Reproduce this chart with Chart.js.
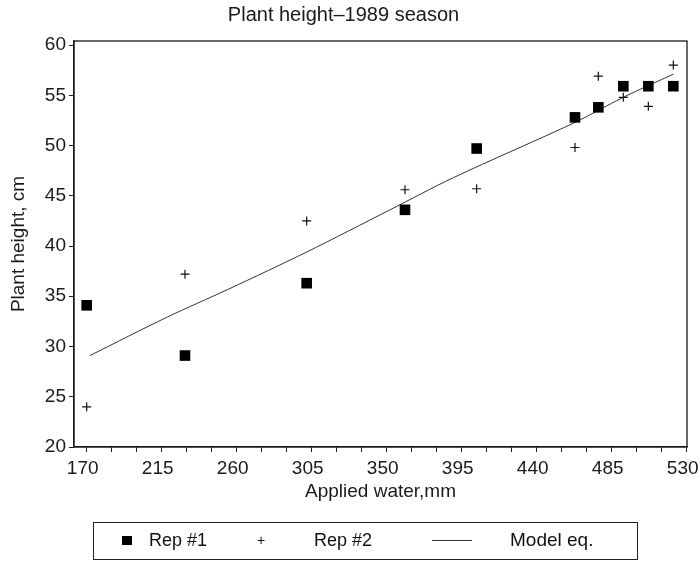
<!DOCTYPE html>
<html><head><meta charset="utf-8">
<script src="https://cdn.jsdelivr.net/npm/chart.js@4.4.1/dist/chart.umd.min.js"></script>
<style>
html,body{margin:0;padding:0;background:#fff;}
#wrap{position:relative;width:700px;height:561px;overflow:hidden;}
canvas{position:absolute;left:0;top:0;}
#legend{position:absolute;left:93px;top:522px;width:543px;height:36px;border:1px solid #222;font-family:"Liberation Sans",Arial,sans-serif;font-size:18px;color:#111;}
.it{position:absolute;top:7px;white-space:nowrap;line-height:20px;}
.sq{position:absolute;left:28px;top:13px;width:10px;height:9px;background:#000;}
.ln{position:absolute;left:338px;top:17px;width:40px;height:1px;background:#333;}
</style></head><body>
<div id="wrap"><canvas id="c" width="700" height="561"></canvas>
<div id="legend">
<div class="sq"></div><div class="it" style="left:55px">Rep #1</div>
<div class="it" style="left:163px;font-size:14px;">+</div><div class="it" style="left:220px">Rep #2</div>
<div class="ln"></div><div class="it" style="left:416px;font-size:19px">Model eq.</div>
</div></div>
<script>
const waterMM = [170, 229, 302, 361, 404, 463, 477, 492, 507, 522];
const rep1 = [34.1, 29.1, 36.3, 43.6, 49.7, 52.8, 53.8, 55.9, 55.9, 55.9];
const rep2 = [24.0, 37.2, 42.5, 45.6, 45.7, 49.8, 56.9, 54.8, 53.9, 58.0];
const modelMM = [172, 218, 255, 302, 352, 390, 463, 492, 522];
const modelHeight = [29.1, 32.9, 35.7, 39.4, 43.6, 46.8, 52.3, 54.8, 57.1];
const xTicks = [170,185,200,215,230,245,260,275,290,305,320,335,350,365,380,395,410,425,440,455,470,485,500,515,530];
const xLabelTicks = [170,215,260,305,350,395,440,485,530];
const yTicks = [20,25,30,35,40,45,50,55,60];

const FONT = '"Liberation Sans", Arial, sans-serif';
const INK = '#1a1a1a';

const boxPlugin = {
  id: 'box',
  afterDraw(chart) {
    const a = chart.chartArea, ctx = chart.ctx;
    ctx.save();
    ctx.strokeStyle = INK; ctx.lineWidth = 1.3;
    ctx.strokeRect(a.left, a.top, a.right - a.left, a.bottom - a.top);
    ctx.restore();
  }
};

new Chart(document.getElementById('c'), {
  type: 'scatter',
  data: {
    datasets: [
      { label: 'Rep #1', data: waterMM.map((x, i) => ({x, y: rep1[i]})), pointStyle: 'rect', pointRadius: 7.5, backgroundColor: '#000', borderColor: '#000', borderWidth: 0 },
      { label: 'Rep #2', data: waterMM.map((x, i) => ({x, y: rep2[i]})), pointStyle: 'cross', pointRadius: 4.5, borderColor: '#111', borderWidth: 1.2 },
      { label: 'Model eq.', type: 'line', data: modelMM.map((x, i) => ({x, y: modelHeight[i]})), showLine: true, borderColor: '#333', borderWidth: 1, pointRadius: 0, tension: 0.3, fill: false }
    ]
  },
  options: {
    responsive: false, animation: false,
    layout: { padding: { left: 0, right: 13, top: 0, bottom: 0 } },
    plugins: {
      legend: { display: false }, tooltip: { enabled: false },
      title: { display: true, text: 'Plant height\u20131989 season', color: INK, font: { family: FONT, size: 20, weight: 'normal' }, padding: { top: 3, bottom: 14 } }
    },
    scales: {
      x: {
        type: 'linear', min: 162.4, max: 530.2,
        afterBuildTicks: s => { s.ticks = xTicks.map(v => ({ value: v })); },
        afterFit: s => { s.height = 114; s.paddingLeft = 0; s.paddingRight = 0; },
        ticks: { autoSkip: false, maxRotation: 0, padding: 5, labelOffset: -4, color: INK, font: { family: FONT, size: 19 },
          callback: v => xLabelTicks.includes(v) ? String(v) : '' },
        grid: { drawOnChartArea: false, drawTicks: true, tickLength: 5, color: INK, lineWidth: 1 },
        border: { display: true, color: INK, width: 1.3 },
        title: { display: true, text: 'Applied water,mm', color: INK, font: { family: FONT, size: 19 }, padding: { top: 0, bottom: 58 } }
      },
      y: {
        type: 'linear', min: 20, max: 60.4,
        afterBuildTicks: s => { s.ticks = yTicks.map(v => ({ value: v })); },
        afterFit: s => { s.width = 74; s.paddingTop = 0; s.paddingBottom = 0; },
        ticks: { padding: 3, color: INK, font: { family: FONT, size: 19 } },
        grid: { drawOnChartArea: false, drawTicks: true, tickLength: 5, color: INK, lineWidth: 1 },
        border: { display: true, color: INK, width: 1.3 },
        title: { display: true, text: 'Plant height, cm', color: INK, font: { family: FONT, size: 19 }, padding: { top: 7, bottom: 0 } }
      }
    }
  },
  plugins: [boxPlugin]
});
</script>
</body></html>
